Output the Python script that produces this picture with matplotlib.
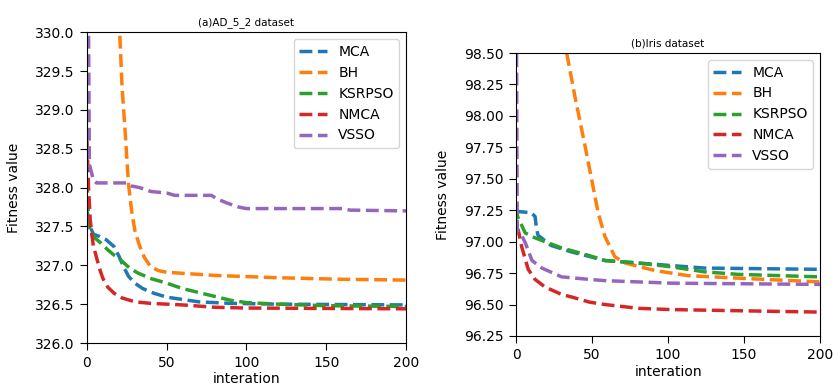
import matplotlib
matplotlib.use("Agg")
import matplotlib.pyplot as plt
import matplotlib.ticker as mticker

labels = ["MCA", "BH", "KSRPSO", "NMCA", "VSSO"]
colors = ["#1f77b4", "#ff7f0e", "#2ca02c", "#d62728", "#9467bd"]

# ---- (a) AD_5_2 dataset ----
a_mca_x = [0, 2, 4, 8, 12, 17, 20, 23, 26, 30, 35, 42, 50, 60, 70, 90, 120, 200]
a_mca_y = [327.7, 327.5, 327.4, 327.37, 327.33, 327.24, 327.12, 326.98, 326.86, 326.77, 326.7, 326.64, 326.59, 326.56, 326.53, 326.51, 326.5, 326.49]
a_bh_x = [0, 10, 18, 20.5, 22, 24, 26, 28, 30, 33, 36, 40, 45, 50, 80, 120, 160, 200]
a_bh_y = [345.0, 336.0, 331.0, 330.0, 329.3, 328.7, 328.05, 327.7, 327.45, 327.25, 327.1, 326.98, 326.93, 326.91, 326.87, 326.84, 326.82, 326.81]
a_ks_x = [0, 1, 2, 5, 8.5, 13, 17, 21, 27, 32, 40, 50, 60, 70, 80, 90, 100, 120, 150, 200]
a_ks_y = [328.1, 327.6, 327.45, 327.35, 327.29, 327.2, 327.13, 327.07, 326.96, 326.9, 326.83, 326.77, 326.7, 326.65, 326.6, 326.55, 326.52, 326.5, 326.48, 326.47]
a_nm_x = [0, 1, 2, 3, 4, 6, 8, 10, 13, 17, 22, 30, 40, 60, 80, 100, 200]
a_nm_y = [328.6, 328.0, 327.6, 327.4, 327.25, 327.1, 326.95, 326.83, 326.72, 326.64, 326.58, 326.53, 326.51, 326.49, 326.46, 326.45, 326.44]
a_vs_x = [0, 1, 1.5, 2.5, 4, 6, 25, 28, 33, 40, 50, 55, 78, 82, 88, 95, 100, 160, 165, 200]
a_vs_y = [335.0, 330.0, 328.3, 328.22, 328.1, 328.06, 328.06, 328.02, 328.0, 327.95, 327.93, 327.9, 327.9, 327.85, 327.8, 327.75, 327.73, 327.73, 327.71, 327.7]

# ---- (b) Iris dataset ----
b_mca_x = [0, 1, 10, 12.5, 13.5, 14.5, 23, 36, 49, 58.5, 80.5, 102, 124, 200]
b_mca_y = [97.22, 97.24, 97.23, 97.2, 97.1, 97.05, 96.97, 96.92, 96.88, 96.85, 96.83, 96.81, 96.79, 96.78]
b_bh_x = [0, 20, 30, 33.3, 38.8, 45.4, 49.8, 54, 58.5, 65, 71.7, 91.5, 113, 146, 200]
b_bh_y = [101.0, 99.3, 98.7, 98.5, 98.15, 97.76, 97.49, 97.23, 97.04, 96.88, 96.83, 96.77, 96.73, 96.71, 96.68]
b_ks_x = [0, 1, 6, 10.5, 19, 30, 48, 58.5, 80.5, 102, 124, 146, 200]
b_ks_y = [97.28, 97.2, 97.07, 97.04, 97.0, 96.95, 96.89, 96.85, 96.83, 96.8, 96.76, 96.74, 96.72]
b_nm_x = [0, 1.5, 3.7, 8, 12.5, 19, 30, 36.6, 48, 58.5, 80.5, 102, 150, 200]
b_nm_y = [97.12, 97.09, 96.96, 96.78, 96.7, 96.64, 96.58, 96.56, 96.52, 96.5, 96.47, 96.46, 96.45, 96.44]
b_vs_x = [0, 0.8, 3.7, 6.1, 10.5, 17, 30, 48, 58.5, 102, 200]
b_vs_y = [99.5, 97.09, 97.05, 96.99, 96.85, 96.79, 96.72, 96.7, 96.69, 96.67, 96.66]

fig = plt.figure(figsize=(8.33, 3.9), dpi=100)
ax1 = fig.add_axes([0.1044, 0.1205, 0.383, 0.797])
ax2 = fig.add_axes([0.6195, 0.1385, 0.365, 0.7256])

a_series = [(a_mca_x, a_mca_y), (a_bh_x, a_bh_y), (a_ks_x, a_ks_y), (a_nm_x, a_nm_y), (a_vs_x, a_vs_y)]
b_series = [(b_mca_x, b_mca_y), (b_bh_x, b_bh_y), (b_ks_x, b_ks_y), (b_nm_x, b_nm_y), (b_vs_x, b_vs_y)]

for ax, series, title, ylim, yt in [
    (ax1, a_series, "(a)AD_5_2 dataset", (326.0, 330.0), [326.0 + 0.5 * i for i in range(9)]),
    (ax2, b_series, "(b)Iris dataset", (96.25, 98.5), [96.25 + 0.25 * i for i in range(10)]),
]:
    for (x, y), lab, c in zip(series, labels, colors):
        ax.plot(x, y, linestyle="--", color=c, linewidth=2.5, label=lab)
    ax.set_xlim(0, 200)
    ax.set_ylim(*ylim)
    ax.set_yticks(yt)
    ax.set_xticks([0, 50, 100, 150, 200])
    ax.tick_params(axis="x", length=5, pad=4)
    ax.tick_params(axis="y", length=5, pad=4)
    ax.set_title(title, fontsize=7.5, pad=5)
    ax.set_xlabel("interation", labelpad=2)
    ax.set_ylabel("Fitness value", labelpad=10)
    ax.legend(loc="upper right")

ax1.yaxis.set_major_formatter(mticker.FormatStrFormatter("%.1f"))
ax2.yaxis.set_major_formatter(mticker.FormatStrFormatter("%.2f"))

fig.savefig("out.png", dpi=100)
